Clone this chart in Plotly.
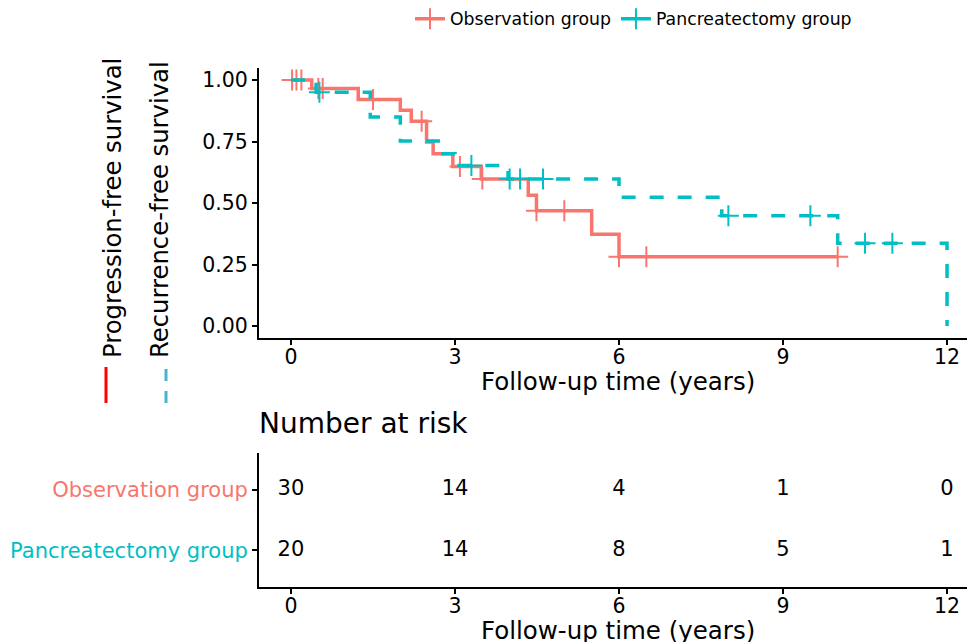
import plotly.graph_objects as go

# ---------------- data ----------------
obs_event_t = [0.38, 1.23, 2.0, 2.2, 2.48, 2.6, 2.96, 3.48, 4.34, 4.49, 5.5, 6.0]
obs_event_s = [0.965, 0.921, 0.877, 0.832, 0.748, 0.700, 0.648, 0.598, 0.532, 0.469, 0.373, 0.282]
obs_end = 10.0
obs_censor_t = [0.02, 0.1, 0.19, 0.5, 0.58, 1.5, 2.39, 3.09, 3.5, 4.49, 5.0, 6.0, 6.5, 10.0]

panc_event_t = [0.46, 1.45, 2.0, 2.78, 3.0, 3.97, 6.0, 7.88, 10.0, 12.0]
panc_event_s = [0.95, 0.85, 0.752, 0.70, 0.652, 0.598, 0.523, 0.448, 0.336, 0.0]
panc_end = 12.0
panc_censor_t = [0.52, 3.3, 4.0, 4.19, 4.61, 8.0, 9.5, 10.5, 11.0]

risk_times = [0, 3, 6, 9, 12]
risk_obs = [30, 14, 4, 1, 0]
risk_panc = [20, 14, 8, 5, 1]

groups = ["Observation group", "Pancreatectomy group"]
colors = ["#F8766D", "#00BFC4"]
x_ticks = [0, 3, 6, 9, 12]
y_ticks = [0, 0.25, 0.5, 0.75, 1.0]
y_tick_text = ["0.00", "0.25", "0.50", "0.75", "1.00"]

FONT = "DejaVu Sans"
W, H = 967, 642


def step_xy(ev_t, ev_s, end):
    xs = [0] + list(ev_t)
    ys = [1.0] + list(ev_s)
    if end > xs[-1]:
        xs.append(end)
        ys.append(ys[-1])
    return xs, ys


def surv_at(t, ev_t, ev_s):
    s = 1.0
    for et, es in zip(ev_t, ev_s):
        if et <= t:
            s = es
    return s


def px(v):
    return v / W


def py(v):
    return 1 - v / H


fig = go.Figure()

series = [
    (obs_event_t, obs_event_s, obs_end, obs_censor_t, colors[0], "solid", groups[0]),
    (panc_event_t, panc_event_s, panc_end, panc_censor_t, colors[1], "14px,14px", groups[1]),
]

for ev_t, ev_s, end, cens, col, dash, name in series:
    xs, ys = step_xy(ev_t, ev_s, end)
    fig.add_trace(go.Scatter(
        x=xs, y=ys, mode="lines", line=dict(color=col, width=3.5, dash=dash, shape="hv"),
        showlegend=False, xaxis="x", yaxis="y"))
    fig.add_trace(go.Scatter(
        x=cens, y=[surv_at(t, ev_t, ev_s) for t in cens], mode="markers",
        marker=dict(symbol="cross-thin", size=15, line=dict(color=col, width=2)),
        showlegend=False, xaxis="x", yaxis="y"))
    # legend entry
    fig.add_trace(go.Scatter(
        x=[None], y=[None], mode="lines+markers", name=name,
        line=dict(color=col, width=3.5),
        marker=dict(symbol="cross-thin", size=15, line=dict(color=col, width=2)),
        xaxis="x", yaxis="y"))

# risk table numbers
fig.add_trace(go.Scatter(
    x=risk_times, y=[2] * len(risk_times), mode="text", text=[str(v) for v in risk_obs],
    textfont=dict(family=FONT, size=21, color="black"), showlegend=False,
    xaxis="x2", yaxis="y2"))
fig.add_trace(go.Scatter(
    x=risk_times, y=[1] * len(risk_times), mode="text", text=[str(v) for v in risk_panc],
    textfont=dict(family=FONT, size=21, color="black"), showlegend=False,
    xaxis="x2", yaxis="y2"))

xrange = [-0.585, 12.365]
axis_common = dict(showline=True, linecolor="black", linewidth=2, showgrid=False,
                   zeroline=False, ticks="outside", ticklen=5, tickwidth=1.5,
                   tickcolor="black", tickfont=dict(family=FONT, size=20.5, color="black"))

fig.update_layout(
    width=W, height=H,
    margin=dict(l=0, r=0, t=0, b=0),
    paper_bgcolor="white", plot_bgcolor="white",
    font=dict(family=FONT, color="black"),
    xaxis=dict(domain=[px(259), 1], range=xrange, tickvals=x_ticks, anchor="y",
               ticklabelstandoff=-6, **axis_common),
    yaxis=dict(domain=[py(338.3), py(67.7)], range=[-0.05, 1.05], tickvals=y_ticks,
               ticktext=y_tick_text, anchor="x", **axis_common),
    xaxis2=dict(domain=[px(259), 1], range=xrange, tickvals=x_ticks, anchor="y2",
                ticklabelstandoff=-6, **axis_common),
    yaxis2=dict(domain=[py(587), py(453)], range=[0.4, 2.6], tickvals=[2, 1],
                ticktext=[f"<span style='color:{colors[0]}'>{groups[0]}</span>",
                          f"<span style='color:{colors[1]}'>{groups[1]}</span>"],
                anchor="x2", **{**axis_common, "tickfont": dict(family=FONT, size=21, color="black")}),
    legend=dict(orientation="h", x=px(410), xanchor="left", y=py(19), yanchor="middle",
                font=dict(family=FONT, size=17.3, color="black"), bgcolor="rgba(0,0,0,0)"),
    showlegend=True,
)

annotations = [
    dict(text="Number at risk", x=px(257), y=py(423), xanchor="left", yanchor="middle",
         font=dict(size=28)),
    dict(text="Follow-up time (years)", x=px(618), y=py(381), xanchor="center", yanchor="middle",
         font=dict(size=24.5)),
    dict(text="Follow-up time (years)", x=px(618), y=py(630), xanchor="center", yanchor="middle",
         font=dict(size=24.5)),
    dict(text="Progression-free survival", x=px(112), y=py(208), textangle=-90,
         xanchor="center", yanchor="middle", font=dict(size=24.3)),
    dict(text="Recurrence-free survival", x=px(160), y=py(210), textangle=-90,
         xanchor="center", yanchor="middle", font=dict(size=24.3)),
]
for a in annotations:
    a.update(xref="paper", yref="paper", showarrow=False)
    a["font"] = dict(family=FONT, color="black", **a["font"])
fig.update_layout(annotations=annotations)

fig.add_shape(type="line", xref="paper", yref="paper", x0=px(106), x1=px(106),
              y0=py(403), y1=py(367), line=dict(color="#FF0000", width=3))
fig.add_shape(type="line", xref="paper", yref="paper", x0=px(166), x1=px(166),
              y0=py(403), y1=py(367), line=dict(color="#4AB3CC", width=3, dash="12px,10px"))

fig.write_html("out.html")
